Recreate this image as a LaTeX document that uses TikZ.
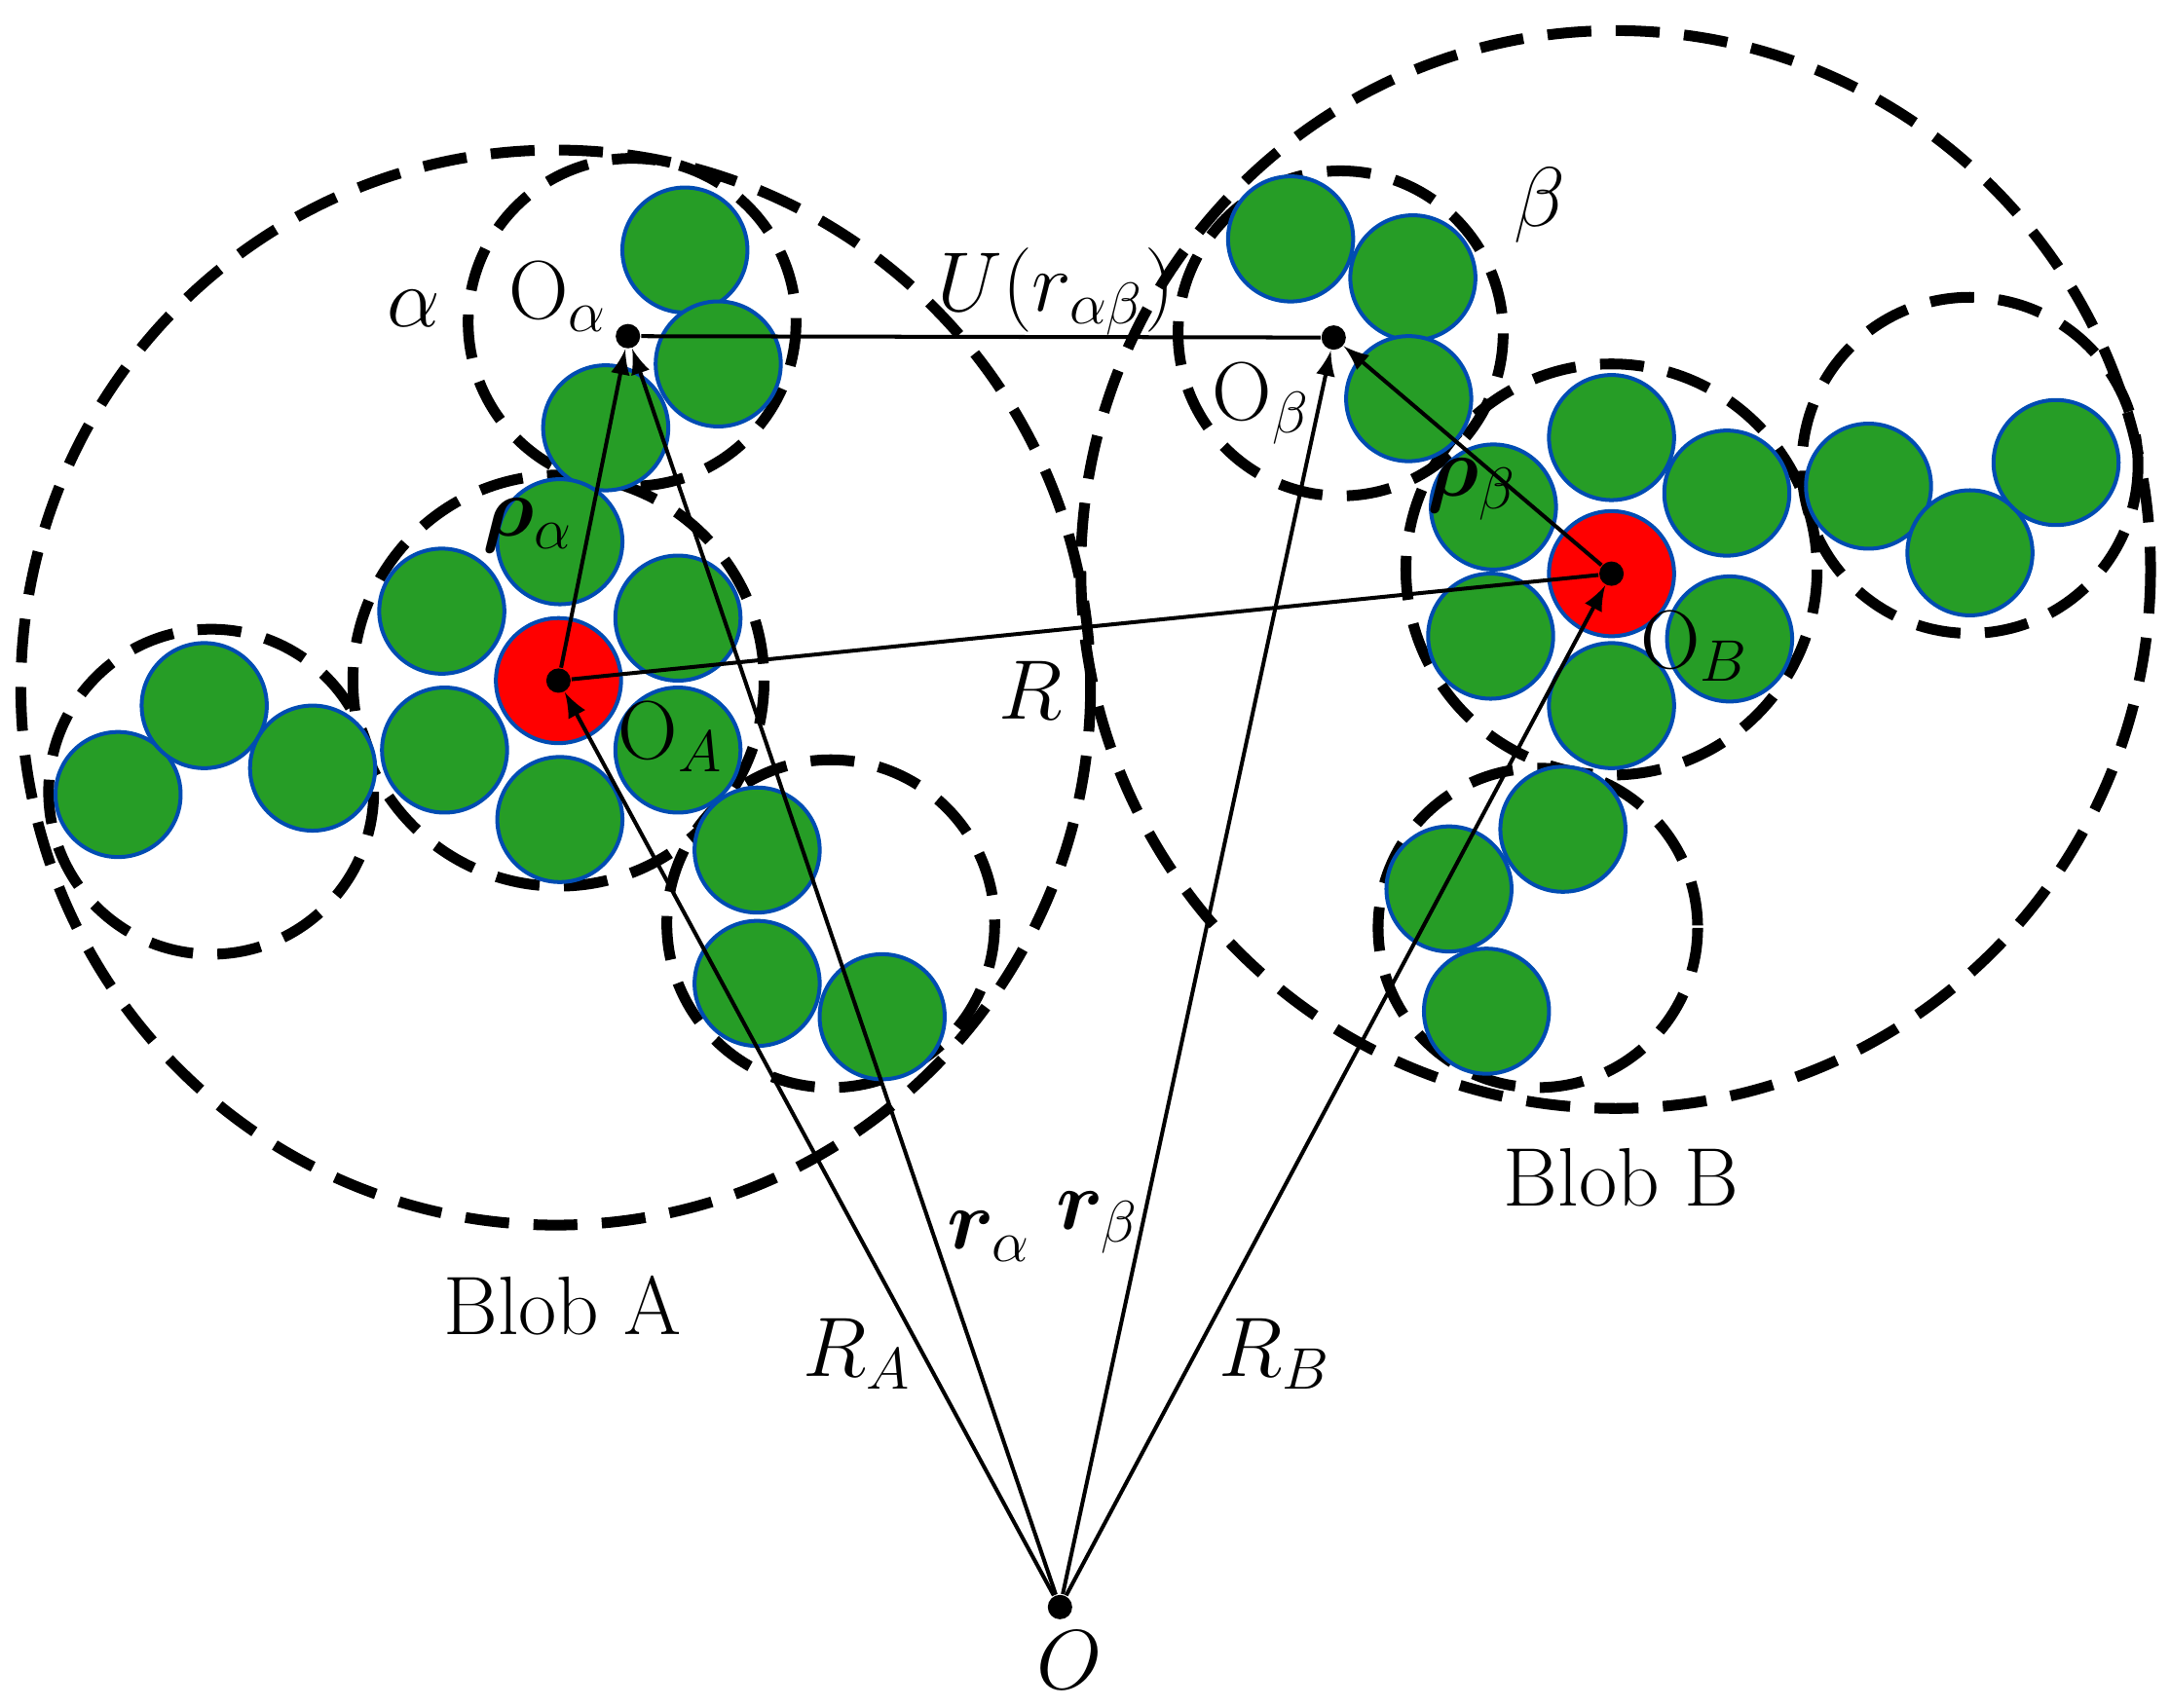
\documentclass[tikz,border=0pt]{standalone}
\usepackage{amsmath,bm}
\begin{document}
\begin{tikzpicture}[x=0.01cm,y=-0.01cm,
  dsh/.style={line width=2.2pt,dash pattern=on 9pt off 5pt},
  g/.style={circle,fill=green!55!black!85,draw=teal!60!blue,line width=0.8pt,minimum size=0.9cm,inner sep=0},
  rd/.style={circle,fill=red,draw=teal!60!blue,line width=0.8pt,minimum size=0.9cm,inner sep=0},
  dot/.style={circle,fill=black,minimum size=5pt,inner sep=0},
  ar/.style={line width=0.8pt,-latex},
  lb/.style={font=\fontsize{17}{20}\selectfont}]
\useasboundingbox (0,0) rectangle (1562,1229);
% big blobs
\draw[dsh] (400,495) ellipse [x radius=385,y radius=387];
\draw[dsh] (1163,410) ellipse [x radius=385,y radius=388];
% small dashed circles
\foreach \c/\r in {{(455,232)}/118,{(965,240)}/117,{(402,490)}/148,{(152,570)}/117,{(598,665)}/118,{(1160,410)}/148,{(1418,335)}/121,{(1107,668)}/115}
  \draw[dsh] \c circle (\r);
% green beads
\foreach \p [count=\i] in {(493,180),(517,262),(436,308),(929,172),(1017,200),(1014,287),
  (403,390),(318,440),(488,445),(320,540),(488,540),(403,590),
  (85,572),(147,508),(225,553),(545,612),(545,708),(635,732),
  (1160,315),(1243,355),(1075,365),(1073,458),(1245,460),(1160,508),
  (1345,350),(1418,398),(1480,333),(1125,597),(1043,640),(1070,728)}
  \node[g] (b\i) at \p {};
\node[rd] (ra) at (402,490) {};
\node[rd] (rb) at (1160,413) {};
% points
\node[dot] (O) at (763,1157) {};
\node[dot] (Oa) at (452,242) {};
\node[dot] (Ob) at (960,243) {};
\node[dot] (OA) at (402,490) {};
\node[dot] (OB) at (1160,413) {};
\draw[ar] (O) -- (OA);
\draw[ar] (O) -- (Oa);
\draw[ar] (O) -- (Ob);
\draw[ar] (O) -- (OB);
\draw[ar] (OA) -- (Oa);
\draw[ar] (OB) -- (Ob);
\draw[line width=0.8pt] (OA) -- (OB);
\draw[line width=0.8pt] (Oa) -- (Ob);
% labels
\node[lb] (l1) at (298,222) {$\alpha$};
\node[lb] (l2) at (402,213) {O$_\alpha$};
\node[lb] (l3) at (760,210) {$U(r_{\alpha\beta})$};
\node[lb] (l4) at (1108,148) {$\beta$};
\node[lb] (l5) at (908,290) {O$_\beta$};
\node[lb] (l6) at (1060,352) {$\bm{\rho}_\beta$};
\node[lb] (l7) at (1220,465) {O$_B$};
\node[lb] (l8) at (380,378) {$\bm{\rho}_\alpha$};
\node[lb] (l9) at (483,530) {O$_A$};
\node[lb] (l10) at (742,497) {$R$};
\node[lb] (l11) at (405,940) {Blob A};
\node[lb] (l12) at (1167,848) {Blob B};
\node[lb] (l13) at (712,890) {$\bm{r}_\alpha$};
\node[lb] (l14) at (790,880) {$\bm{r}_\beta$};
\node[lb] (l15) at (617,975) {$R_A$};
\node[lb] (l16) at (918,975) {$R_B$};
\node[lb] (l17) at (770,1195) {$O$};
\end{tikzpicture}
\end{document}
